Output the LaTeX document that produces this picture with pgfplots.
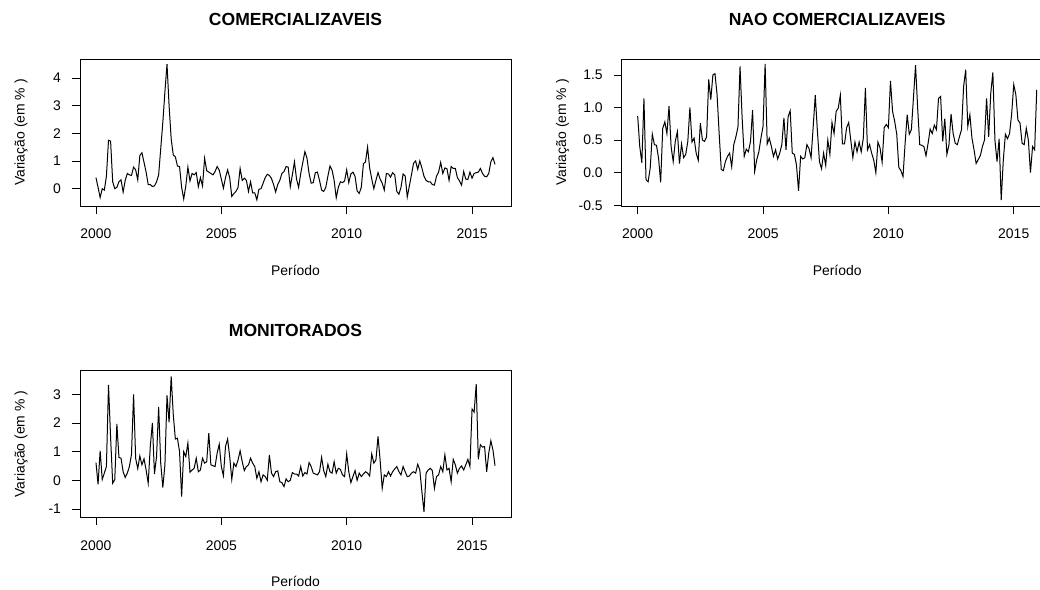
\documentclass[border=0pt]{standalone}
\usepackage{pgfplots}
\usepackage{pgfplotstable}
\pgfplotsset{compat=1.18}
\usepackage{fontspec}
\setmainfont{Liberation Sans}

\pgfplotstableread{
c n m
0.40 0.87 0.62
0.05 0.40 -0.14
-0.32 0.15 1.03
0.00 1.14 0.03
-0.05 -0.11 0.25
0.45 -0.14 0.48
1.75 0.07 3.33
1.72 0.59 1.50
0.25 0.43 -0.10
0.00 0.42 0.02
0.05 0.22 1.97
0.25 -0.15 0.80
0.32 0.68 0.77
-0.12 0.78 0.30
0.30 0.60 0.10
0.55 1.02 0.25
0.50 0.40 0.48
0.48 0.17 0.90
0.78 0.48 3.00
0.68 0.63 0.76
0.32 0.14 0.41
1.20 0.44 0.85
1.30 0.23 0.54
0.95 0.28 0.75
0.60 0.48 0.36
0.15 1.00 -0.10
0.15 0.47 1.18
0.08 0.53 2.00
0.10 0.30 0.22
0.25 0.19 0.83
0.50 0.76 2.56
1.45 0.50 0.60
2.40 0.48 -0.25
3.50 0.55 0.54
4.50 1.43 2.96
3.00 1.12 2.02
1.80 1.50 3.63
1.22 1.52 2.29
1.15 1.20 1.44
0.82 0.60 1.47
0.80 0.05 1.00
0.05 0.03 -0.57
-0.37 0.17 1.00
0.10 0.25 0.83
0.78 0.30 1.30
0.28 0.09 0.28
0.55 0.43 0.36
0.50 0.55 0.42
0.58 0.70 0.77
0.07 1.63 0.30
0.40 0.84 0.36
0.10 0.25 0.77
1.10 0.36 0.60
0.65 0.32 0.65
0.60 0.48 1.65
0.55 0.96 0.54
0.50 0.02 0.51
0.62 0.20 0.48
0.80 0.32 0.95
0.67 0.53 1.26
0.35 0.71 0.48
0.02 1.67 0.16
0.40 0.44 1.18
0.68 0.53 1.44
0.40 0.40 0.83
-0.28 0.25 0.03
-0.18 0.35 0.60
-0.10 0.21 0.48
0.05 0.30 0.71
0.73 0.43 1.03
0.30 0.84 0.65
0.38 0.35 0.34
0.30 0.86 0.48
-0.10 0.95 0.54
0.25 0.30 0.77
-0.15 0.28 0.60
-0.15 0.12 0.48
-0.40 -0.28 0.07
-0.02 0.25 0.30
0.00 0.21 -0.05
0.20 0.23 0.19
0.40 0.43 0.13
0.52 0.37 0.00
0.48 0.23 0.89
0.37 0.70 0.25
0.15 1.19 0.13
-0.12 0.65 0.30
0.15 0.17 0.33
0.30 0.06 -0.05
0.55 0.30 -0.08
0.62 0.11 -0.22
0.80 0.50 0.05
0.78 0.28 -0.05
0.07 0.77 0.00
0.50 0.60 0.27
0.97 0.94 0.22
0.35 0.99 0.22
0.05 1.19 0.15
0.55 0.44 0.48
0.95 0.44 0.15
1.34 0.69 0.27
1.10 0.77 0.22
0.55 0.50 0.62
0.20 0.23 0.48
0.22 0.47 0.25
0.58 0.32 0.22
0.60 0.47 0.19
0.30 0.32 0.30
-0.05 0.53 0.80
-0.10 1.30 0.34
0.05 0.35 0.13
0.45 0.43 0.56
0.82 0.30 0.30
0.67 0.19 0.25
0.30 0.00 0.65
-0.33 0.47 0.25
0.05 0.38 0.42
0.25 0.16 0.38
0.22 0.69 0.19
0.28 0.74 0.13
0.68 0.69 0.92
0.22 1.41 0.30
0.53 0.94 -0.08
0.60 0.79 0.13
0.45 0.59 0.34
-0.08 0.08 0.00
-0.17 0.03 0.25
0.05 -0.06 0.13
0.90 0.45 0.22
0.97 0.89 0.30
1.50 0.59 0.25
0.75 0.66 0.15
0.35 1.15 0.92
0.00 1.65 0.60
0.30 1.00 0.71
0.58 0.43 1.53
0.35 0.42 0.71
0.20 0.40 -0.28
-0.05 0.26 0.19
0.55 0.45 0.13
0.53 0.67 0.30
0.42 0.60 0.15
0.58 0.73 0.30
0.50 0.66 0.40
-0.10 1.14 0.48
-0.20 1.17 0.30
0.05 0.48 0.19
0.53 0.83 0.48
0.46 0.28 0.30
-0.30 0.43 0.13
0.10 0.90 0.15
0.50 0.60 0.25
0.92 0.45 0.30
1.00 0.43 0.25
0.70 0.55 0.56
1.00 0.66 0.36
0.75 1.32 -0.40
0.45 1.58 -1.10
0.30 0.71 0.25
0.25 0.89 0.36
0.25 0.53 0.42
0.15 0.35 0.34
0.13 0.14 -0.28
0.45 0.20 0.13
0.60 0.26 0.19
0.95 0.40 0.48
0.55 0.50 0.30
0.75 1.14 0.89
0.72 0.55 0.36
0.30 1.22 0.42
0.80 1.54 -0.05
0.73 0.50 0.73
0.73 0.17 0.54
0.40 0.52 0.25
0.28 -0.42 0.42
0.13 0.19 0.50
0.62 0.59 0.36
0.35 0.52 0.54
0.33 0.60 0.73
0.60 0.90 0.48
0.38 1.35 2.49
0.55 1.20 2.38
0.58 0.81 3.36
0.60 0.76 0.73
0.73 0.45 1.24
0.55 0.43 1.16
0.45 0.68 1.18
0.43 0.50 0.30
0.55 0.00 0.95
0.97 0.40 1.38
1.12 0.35 1.06
0.88 1.27 0.51
}\datatable

\pgfplotsset{
  panel/.style={
    scale only axis, width=431bp, height=147bp, anchor=south west,
    xmin=1999.363, xmax=2016.554,
    xtick={2000,2005,2010,2015}, xticklabels={2000,2005,2010,2015},
    scaled ticks=false,
    xtick pos=bottom, ytick pos=left, tick align=inside,
    major tick length=-8bp,
    tick style={black, line width=0.8bp},
    axis line style={black, line width=0.8bp},
    ticklabel style={font=\fontsize{14}{16}\selectfont, inner sep=0pt, outer sep=0pt},
    xticklabel style={anchor=base, yshift=-33bp},
    yticklabel style={anchor=east, xshift=-19bp},
    xlabel={Período}, ylabel={Variação (em \% )},
    label style={font=\fontsize{14}{16}\selectfont},
    xlabel style={at={(axis description cs:0.5,0)}, anchor=base, yshift=-69.5bp},
    title style={at={(axis description cs:0.5,1)}, anchor=base, yshift=28bp, font=\bfseries\fontsize{17.6}{20}\selectfont},
    clip=true,
  },
  every axis y label/.style={at={(axis description cs:-0.137,0.5)}, rotate=90, anchor=center},
}

\begin{document}
\begin{tikzpicture}
\useasboundingbox (0,0) rectangle (1040bp,590bp);
\clip (0,0) rectangle (1040bp,590bp);

\begin{axis}[panel, at={(80bp,384bp)},
  ymin=-0.625, ymax=4.686, ytick={0,1,2,3,4}, yticklabels={0,1,2,3,4},
  title={COMERCIALIZAVEIS}]
\addplot[black, line width=1bp, mark=none] table[x expr=2000+\coordindex/12, y=c] {\datatable};
\end{axis}

\begin{axis}[panel, at={(621.7bp,384bp)},
  ymin=-0.512, ymax=1.745, ytick={-0.5,0,0.5,1,1.5}, yticklabels={-0.5,0.0,0.5,1.0,1.5},
  title={NAO COMERCIALIZAVEIS}]
\addplot[black, line width=1bp, mark=none] table[x expr=2000+\coordindex/12, y=n] {\datatable};
\end{axis}

\begin{axis}[panel, at={(80bp,72.7bp)}, height=146.6bp,
  ymin=-1.291, ymax=3.826, ytick={-1,0,1,2,3}, yticklabels={-1,0,1,2,3},
  title={MONITORADOS}]
\addplot[black, line width=1bp, mark=none] table[x expr=2000+\coordindex/12, y=m] {\datatable};
\end{axis}
\end{tikzpicture}
\end{document}
